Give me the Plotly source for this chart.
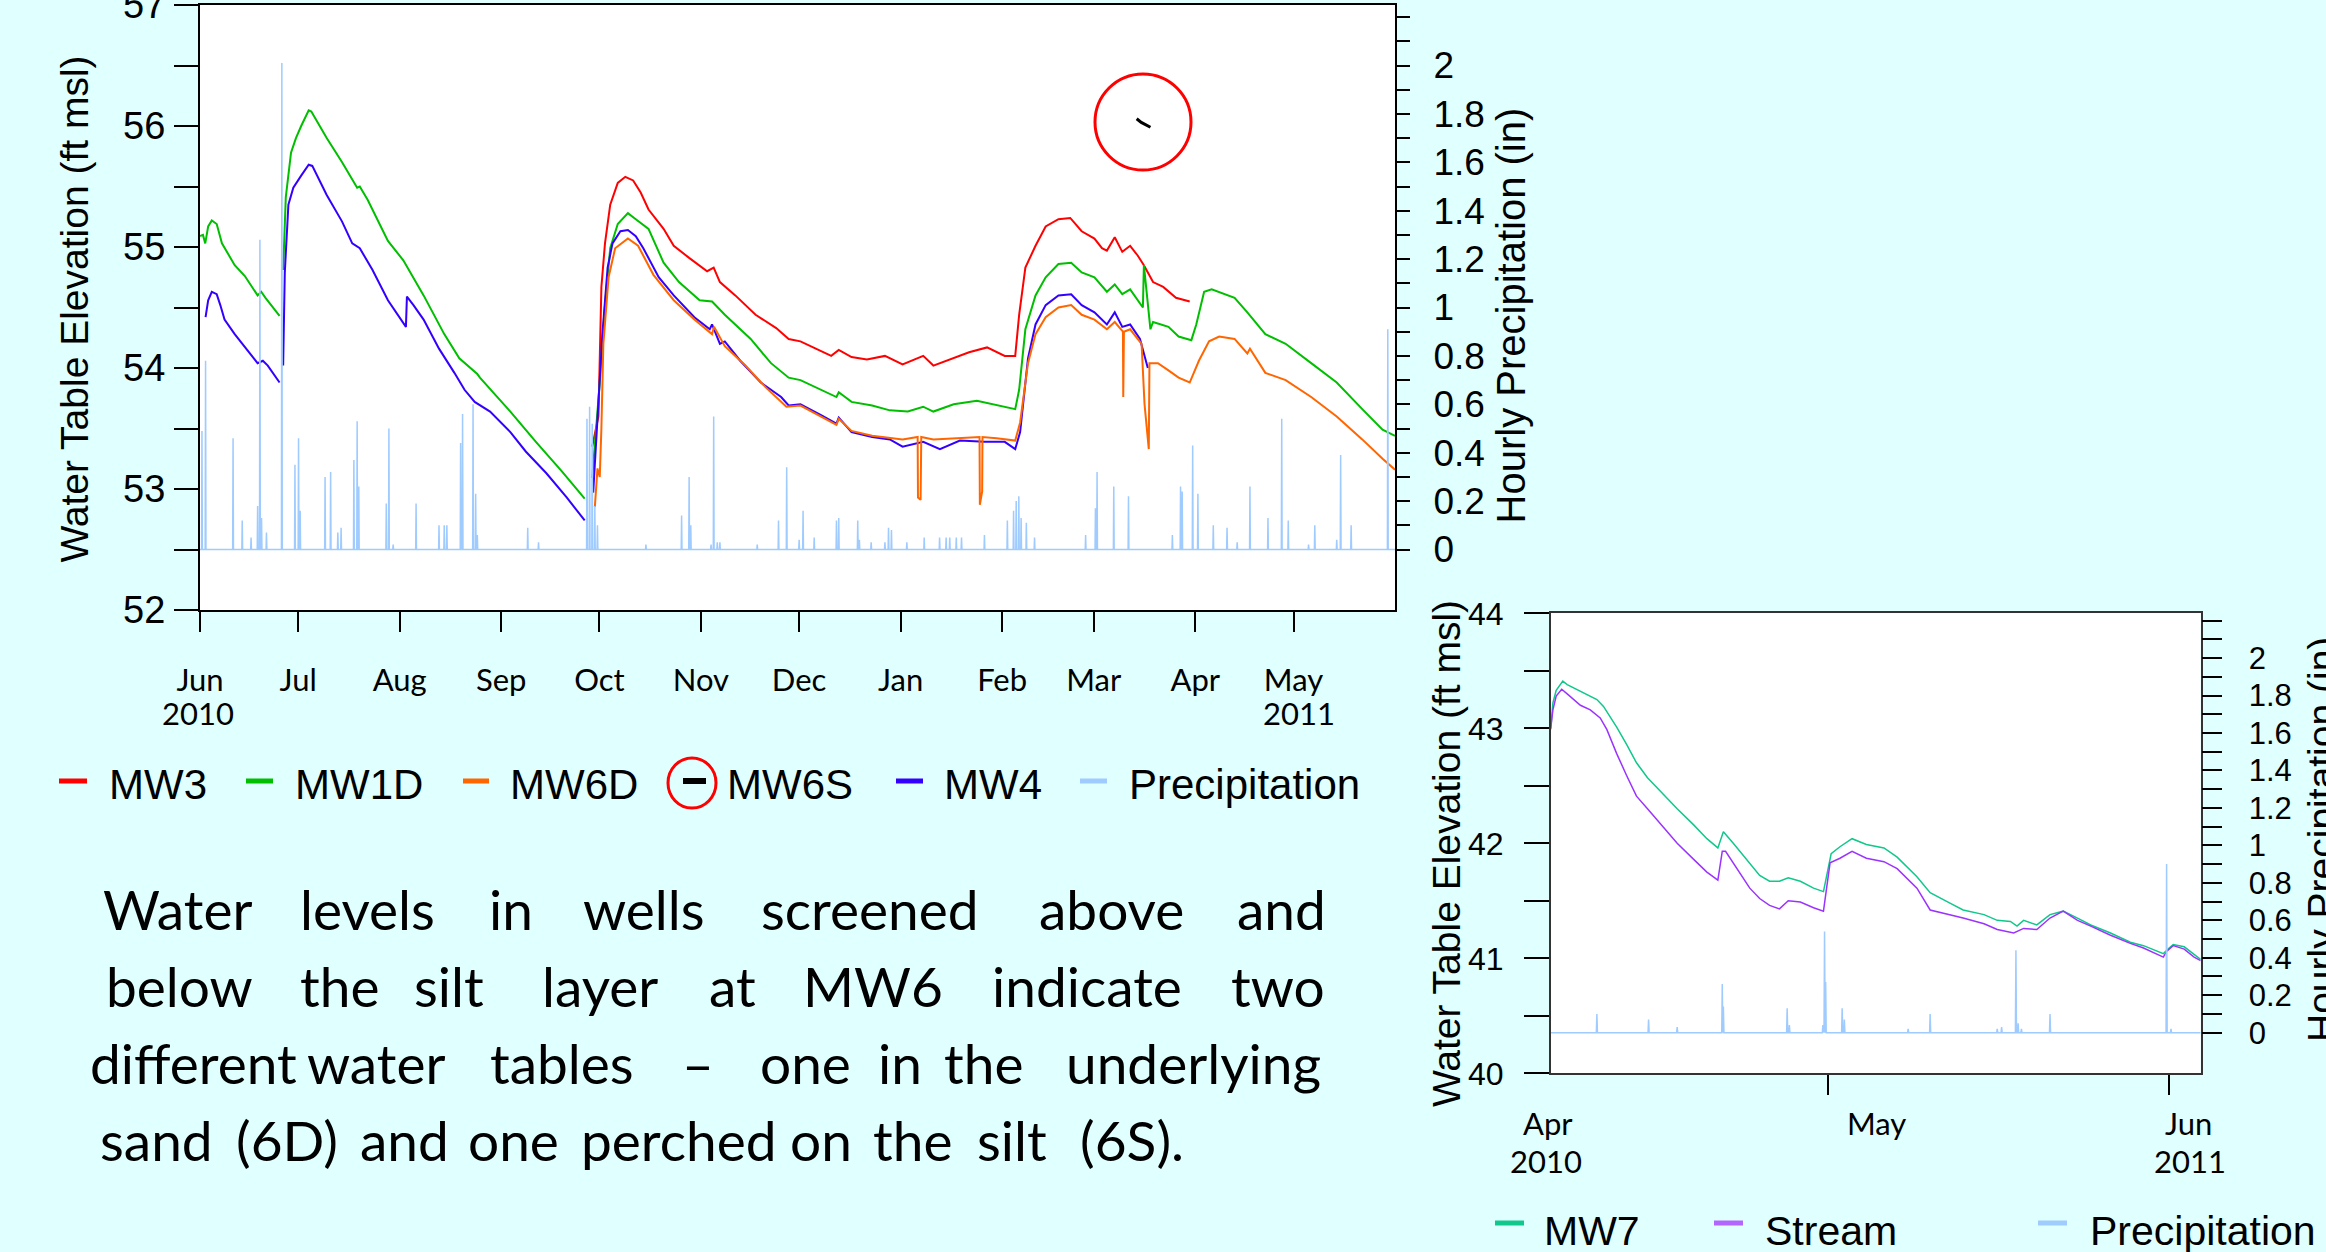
import plotly.graph_objects as go
import pandas as pd

W, H = 2326, 1252
BG = "#E0FFFF"

def px(x):
    return x / W

def py(y):
    return 1 - y / H

# ---------------- DATA : main chart (days after 2010-06-01) ----------------
MAIN_REF = "2010-06-01"

mw1d_days = [0, 0.9, 1.6, 2.5, 3.6, 5.1, 6.7, 10.6, 13.7, 17.6, 18.7, 20.0, 24.3, None,
             25.4, 25.9, 26.2, 27.8, 29.3, 30.9, 33.2, 34.0, 38.7, 43.4, 48.0, 48.8, 51.2, 57.4,
             62.1, 68.3, 74.6, 79.2, 84.7, 85.5, 94.8, 102.6, 110.4, 117.5, None,
             119.8, 122.1, 123.7, 125.3, 127.6, 130.7, 133.1, 137.0, 141.6, 146.3, 152.6, 156.4,
             160.3, 168.2, 174.4, 179.8, 183.4, 189.7, 194.4, 195.1, 199.0, 205.3, 210.7, 216.2,
             220.9, 224.0, 230.2, 237.3, 242.7, 249.0, 250.2, 252.1, 255.2, 258.3, 262.2, 266.1,
             269.3, 273.2, 277.0, 279.4, 281.7, 284.1, 288.0, 288.3, 290.3, 291.1, 295.8, 298.9,
             302.8, 304.3, 306.7, 309.0, 316.0, 319.9, 325.4, 331.6, 339.4, 347.2, 355.0, 361.2, 365.0]
mw1d_vals = [55.09, 55.10, 55.03, 55.17, 55.22, 55.19, 55.03, 54.85, 54.76, 54.60, 54.63, 54.58, 54.43, None,
             54.81, 55.25, 55.41, 55.78, 55.90, 56.00, 56.13, 56.12, 55.90, 55.70, 55.49, 55.50, 55.39, 55.05,
             54.89, 54.60, 54.28, 54.08, 53.95, 53.92, 53.64, 53.39, 53.15, 52.92, None,
             53.09, 53.88, 54.52, 54.99, 55.19, 55.28, 55.23, 55.15, 54.87, 54.71, 54.56, 54.55,
             54.44, 54.24, 54.04, 53.92, 53.90, 53.82, 53.76, 53.80, 53.72, 53.69, 53.65, 53.64,
             53.68, 53.64, 53.70, 53.73, 53.70, 53.66, 53.82, 54.32, 54.60, 54.75, 54.86, 54.87,
             54.79, 54.75, 54.63, 54.69, 54.61, 54.65, 54.50, 54.85, 54.32, 54.38, 54.34, 54.26,
             54.23, 54.36, 54.63, 54.65, 54.58, 54.46, 54.28, 54.20, 54.04, 53.88, 53.66, 53.49, 53.44]

mw3_days = [119.8, 121.7, 122.6, 123.7, 125.3, 127.6, 129.9, 132.3, 134.6, 137.0, 141.6, 144.7,
            149.4, 154.9, 156.9, 158.8, 163.5, 169.7, 176.0, 179.8, 183.4, 189.7, 192.8, 195.1,
            199.0, 203.7, 209.2, 214.6, 220.9, 224.0, 230.2, 234.9, 240.4, 245.8, 249.0, 250.2,
            252.1, 255.2, 258.3, 262.2, 265.8, 269.3, 273.2, 275.5, 277.0, 279.4, 281.7, 284.1,
            286.4, 288.3, 291.1, 294.2, 298.1, 302.3]
mw3_vals = [53.35, 53.60, 54.67, 55.03, 55.35, 55.53, 55.58, 55.55, 55.45, 55.31, 55.15, 55.01,
            54.91, 54.80, 54.83, 54.71, 54.60, 54.44, 54.33, 54.24, 54.22, 54.14, 54.10, 54.15,
            54.09, 54.07, 54.10, 54.03, 54.10, 54.02, 54.08, 54.13, 54.17, 54.10, 54.10, 54.44,
            54.83, 55.01, 55.17, 55.23, 55.24, 55.13, 55.07, 54.99, 54.97, 55.08, 54.96, 55.01,
            54.93, 54.85, 54.71, 54.67, 54.58, 54.55]

mw6d_days = [120.6, 121.4, 122.1, 122.6, 123.2, 124.8, 126.8, 130.7, 133.8, 138.5, 144.7, 151.0,
             156.4, 157.0, 160.3, 166.6, 172.8, 179.1, 183.4, 189.7, 194.4, 195.1, 199.0, 205.3,
             209.2, 214.6, 219.2, 219.3, 220.1, 220.3, 224.0, 230.2, 238.1, 238.2, 238.9, 239.0,
             243.3, 249.0, 250.5, 252.9, 255.2, 258.3, 262.2, 266.1, 269.3, 273.2, 277.0, 279.4,
             281.9, 282.0, 282.2, 284.1, 287.6, 288.5, 289.8, 290.0, 292.6, 295.8, 298.9, 302.3,
             305.1, 308.2, 311.3, 316.0, 319.9, 320.7, 325.4, 331.6, 339.4, 347.2, 355.0, 361.2, 365.0]
mw6d_vals = [52.85, 53.17, 53.10, 53.50, 54.20, 54.75, 54.99, 55.07, 55.01, 54.77, 54.56, 54.40,
             54.28, 54.34, 54.18, 54.02, 53.84, 53.68, 53.69, 53.60, 53.53, 53.58, 53.48, 53.44,
             53.43, 53.41, 53.43, 52.93, 52.91, 53.43, 53.41, 53.42, 53.43, 52.87, 52.98, 53.43,
             53.42, 53.40, 53.55, 54.04, 54.28, 54.42, 54.50, 54.52, 54.44, 54.40, 54.32, 54.38,
             54.30, 53.76, 54.30, 54.32, 54.20, 53.70, 53.33, 54.04, 54.04, 53.98, 53.92, 53.88,
             54.06, 54.22, 54.26, 54.24, 54.12, 54.16, 53.96, 53.90, 53.76, 53.60, 53.41, 53.25, 53.16]

mw6s_days = [286.1, 287.5, 290.3]
mw6s_vals = [56.06, 56.03, 55.99]

mw4_days = [1.7, 2.5, 3.6, 5.1, 6.2, 7.5, 10.6, 15.3, 17.6, 19.2, 20.7, 24.3, None,
            25.4, 25.9, 27.0, 28.5, 30.9, 33.2, 34.3, 38.7, 43.4, 46.5, 48.8, 52.7, 57.4, 62.9,
            63.2, 65.2, 68.3, 73.0, 77.7, 80.8, 83.9, 88.6, 94.8, 99.5, 105.8, 112.0, 117.5, None,
            120.1, 121.4, 122.9, 124.5, 126.0, 128.4, 130.7, 133.1, 135.4, 140.1, 144.7, 151.0,
            155.7, 156.4, 158.8, 160.3, 165.0, 171.3, 177.5, 179.8, 183.4, 189.7, 194.4, 195.1,
            199.0, 205.3, 210.7, 214.6, 220.9, 226.0, 232.1, 239.6, 245.8, 249.0, 250.5, 252.9,
            255.2, 258.3, 262.2, 266.1, 269.3, 273.2, 277.0, 279.4, 281.7, 284.1, 287.1, 289.5]
mw4_vals = [54.42, 54.56, 54.63, 54.61, 54.52, 54.40, 54.28, 54.12, 54.04, 54.06, 54.02, 53.88, None,
            54.02, 54.79, 55.35, 55.49, 55.59, 55.68, 55.67, 55.43, 55.21, 55.03, 54.99, 54.81, 54.56, 54.34,
            54.59, 54.52, 54.40, 54.16, 53.96, 53.82, 53.72, 53.64, 53.47, 53.31, 53.13, 52.93, 52.74, None,
            52.97, 53.60, 54.28, 54.83, 55.03, 55.13, 55.14, 55.09, 54.99, 54.75, 54.60, 54.42,
            54.32, 54.36, 54.20, 54.22, 54.06, 53.88, 53.76, 53.69, 53.70, 53.61, 53.54, 53.59,
            53.47, 53.43, 53.41, 53.35, 53.39, 53.33, 53.40, 53.39, 53.39, 53.33, 53.47, 54.08,
            54.36, 54.52, 54.60, 54.61, 54.52, 54.46, 54.36, 54.46, 54.34, 54.36, 54.24, 54.00]

precip_days = [0.6, 1.7, 10.1, 12.9, 15.6, 17.6, 18.3, 18.8, 20.3, 25.0, 29.0, 30.1, 30.6, 38.2,
               39.9, 42.1, 43.1, 47.0, 48.0, 48.5, 56.9, 57.7, 59.0, 66.0, 73.0, 74.6, 75.4, 79.6,
               80.2, 83.4, 84.2, 84.7, 100.1, 103.4, 118.2, 119.0, 119.8, 120.6, 121.4, 136.2,
               147.1, 149.4, 149.9, 156.1, 156.9, 158.0, 158.8, 170.2, 176.7, 179.2, 183.0, 184.2,
               187.6, 194.4, 195.1, 200.9, 201.4, 205.0, 209.2, 210.3, 211.2, 215.9, 221.2, 225.9,
               227.9, 229.0, 231.0, 232.6, 239.6, 246.6, 248.5, 249.3, 250.1, 250.8, 252.4, 254.9,
               270.5, 273.5, 274.0, 279.1, 283.6, 297.0, 299.5, 300.0, 303.2, 304.8, 309.5, 313.7,
               316.8, 320.7, 326.2, 330.4, 332.4, 338.6, 340.5, 347.2, 348.4, 351.6, 362.8]
precip_vals = [0.49, 0.78, 0.46, 0.12, 0.05, 0.18, 1.28, 0.13, 0.07, 2.01, 0.35, 0.46, 0.16, 0.30,
               0.32, 0.07, 0.09, 0.37, 0.53, 0.26, 0.19, 0.50, 0.02, 0.19, 0.10, 0.10, 0.10, 0.44,
               0.56, 0.60, 0.23, 0.06, 0.09, 0.03, 0.54, 0.59, 0.52, 0.18, 0.10, 0.02,
               0.14, 0.30, 0.10, 0.02, 0.55, 0.03, 0.03, 0.02, 0.12, 0.34, 0.04, 0.16,
               0.05, 0.12, 0.13, 0.12, 0.04, 0.03, 0.03, 0.09, 0.08, 0.03, 0.05, 0.05,
               0.05, 0.05, 0.05, 0.05, 0.06, 0.12, 0.16, 0.20, 0.22, 0.13, 0.11, 0.05,
               0.06, 0.17, 0.32, 0.26, 0.22, 0.06, 0.26, 0.24, 0.43, 0.23, 0.10, 0.09,
               0.03, 0.26, 0.13, 0.54, 0.12, 0.02, 0.10, 0.04, 0.39, 0.10, 0.91]

month_ticks = ["2010-06-01", "2010-07-01", "2010-08-01", "2010-09-01", "2010-10-01", "2010-11-01",
               "2010-12-01", "2011-01-01", "2011-02-01", "2011-03-01", "2011-04-01", "2011-05-01"]
month_labels = ["Jun", "Jul", "Aug", "Sep", "Oct", "Nov", "Dec", "Jan", "Feb", "Mar", "Apr", "May"]

# ---------------- DATA : inset chart (days after 2011-05-01) ----------------
INSET_REF = "2011-05-01"
inset_range_days = [-25.2, 33.9]

mw7_days = [-25.2, -25.0, -24.7, -24.1, -23.7, -22.5, -21.0, -20.4, -19.2, -18.3, -17.4, -16.4,
            -15.2, -13.7, -12.2, -11.0, -10.0, -9.5, -8.6, -7.1, -6.2, -5.3, -4.4, -3.6, -2.5,
            -1.3, -0.4, 0.3, 1.1, 2.2, 3.5, 5.1, 6.3, 8.1, 9.3, 11.1, 12.3, 14.2, 15.4, 16.6,
            17.2, 17.8, 19.0, 20.2, 21.4, 22.7, 23.9, 25.7, 27.5, 28.7, 30.5, 30.8, 31.4, 32.4,
            33.3, 33.9]
mw7_vals = [42.99, 43.22, 43.33, 43.41, 43.38, 43.32, 43.25, 43.19, 43.01, 42.86, 42.70, 42.57,
            42.45, 42.30, 42.16, 42.04, 41.96, 42.10, 42.00, 41.83, 41.72, 41.67, 41.67, 41.70, 41.67,
            41.61, 41.58, 41.91, 41.97, 42.04, 41.99, 41.96, 41.88, 41.71, 41.57, 41.48, 41.42, 41.38,
            41.33, 41.32, 41.28, 41.33, 41.29, 41.38, 41.41, 41.35, 41.29, 41.22, 41.14, 41.11, 41.04,
            41.07, 41.12, 41.10, 41.03, 40.99]

stream_days = [-25.2, -25.0, -24.7, -24.2, -23.7, -22.5, -21.6, -20.7, -20.1, -19.2, -18.3, -17.4,
               -16.4, -15.2, -13.7, -12.2, -11.0, -10.0, -9.6, -9.3, -8.6, -7.1, -6.2, -5.3, -4.4,
               -3.6, -2.5, -1.3, -0.4, 0.2, 1.1, 2.2, 3.5, 5.1, 6.3, 8.1, 9.3, 11.1, 12.3, 14.2,
               15.4, 16.9, 17.8, 19.0, 20.2, 21.4, 22.7, 23.9, 25.7, 27.5, 28.7, 30.5, 30.8, 31.4,
               32.4, 33.3, 33.9]
stream_vals = [43.00, 43.16, 43.28, 43.34, 43.30, 43.20, 43.16, 43.09, 42.99, 42.78, 42.59, 42.41,
               42.30, 42.17, 42.00, 41.86, 41.75, 41.68, 41.93, 41.93, 41.83, 41.61, 41.52, 41.46, 41.43,
               41.50, 41.49, 41.44, 41.41, 41.83, 41.87, 41.93, 41.87, 41.84, 41.78, 41.61, 41.42, 41.38,
               41.35, 41.30, 41.25, 41.22, 41.26, 41.25, 41.35, 41.41, 41.33, 41.28, 41.20, 41.13, 41.09,
               41.01, 41.06, 41.11, 41.08, 41.01, 40.98]

inset_precip_days = [-21.0, -16.3, -13.7, -9.6, -9.5, -3.7, -3.5, -0.45, -0.3, -0.2, 1.3, 1.5,
                     7.3, 9.3, 15.4, 15.8, 17.1, 17.3, 17.6, 20.2, 30.8, 31.2]
inset_precip_vals = [0.10, 0.07, 0.03, 0.26, 0.14, 0.13, 0.04, 0.04, 0.54, 0.27, 0.13, 0.07,
                     0.02, 0.10, 0.02, 0.03, 0.44, 0.05, 0.02, 0.10, 0.90, 0.02]

inset_tick_days = [0, 31]

# ---------------- helpers ----------------
def to_dates(ref, days):
    r = pd.Timestamp(ref)
    return [None if d is None else r + pd.Timedelta(days=d) for d in days]


def spike_series(days, vals, d0, d1, hw):
    xs, ys = [d0], [0.0]
    for d, v in sorted(zip(days, vals)):
        xs += [d - hw, d, d + hw]
        ys += [0.0, v, 0.0]
    xs.append(d1)
    ys.append(0.0)
    return xs, ys


C_RED, C_GREEN, C_ORANGE, C_BLUE = "#FF0000", "#00BF00", "#FF6600", "#3300FF"
C_PREC, C_MW7, C_STREAM = "#9FCBFF", "#10C88C", "#9B33FF"

fig = go.Figure()

# main precipitation
pxs, pys = spike_series(precip_days, precip_vals, 0, 365, 0.12)
fig.add_trace(go.Scatter(x=to_dates(MAIN_REF, pxs), y=pys, mode="lines", name="Precipitation",
                         line=dict(color=C_PREC, width=1.5), xaxis="x", yaxis="y2", showlegend=False))
for name, d, v, c, w in [("MW3", mw3_days, mw3_vals, C_RED, 2),
                         ("MW1D", mw1d_days, mw1d_vals, C_GREEN, 2),
                         ("MW4", mw4_days, mw4_vals, C_BLUE, 2),
                         ("MW6D", mw6d_days, mw6d_vals, C_ORANGE, 2),
                         ("MW6S", mw6s_days, mw6s_vals, "black", 3)]:
    fig.add_trace(go.Scatter(x=to_dates(MAIN_REF, d), y=v, mode="lines", name=name,
                             line=dict(color=c, width=w), xaxis="x", yaxis="y", showlegend=False))

# inset
ixs, iys = spike_series(inset_precip_days, inset_precip_vals, inset_range_days[0], inset_range_days[1], 0.05)
fig.add_trace(go.Scatter(x=to_dates(INSET_REF, ixs), y=iys, mode="lines", name="Precipitation",
                         line=dict(color=C_PREC, width=1.5), xaxis="x2", yaxis="y4", showlegend=False))
fig.add_trace(go.Scatter(x=to_dates(INSET_REF, mw7_days), y=mw7_vals, mode="lines", name="MW7",
                         line=dict(color=C_MW7, width=1.5), xaxis="x2", yaxis="y3", showlegend=False))
fig.add_trace(go.Scatter(x=to_dates(INSET_REF, stream_days), y=stream_vals, mode="lines", name="Stream",
                         line=dict(color=C_STREAM, width=1.5), xaxis="x2", yaxis="y3", showlegend=False))

# ---------------- axes ----------------
ARIAL = "Liberation Sans, Arial, sans-serif"
CAL = "Lato, Open Sans, sans-serif"

elev_main = [52 + 0.5 * i for i in range(11)]
elev_main_txt = [f"{v:g}" if v == int(v) else "" for v in elev_main]
prec_vals = [round(0.1 * i, 1) for i in range(23)]
prec_txt = [f"{v:g}" if (i % 2 == 0 and v <= 2) else "" for i, v in enumerate(prec_vals)]
elev_inset = [40 + 0.5 * i for i in range(9)]
elev_inset_txt = [f"{v:g}" if v == int(v) else "" for v in elev_inset]

main_x = [px(200), px(1395)]
main_y = [py(610), py(5)]
ins_x = [px(1550.7), px(2200.7)]
ins_y = [py(1073.3), py(613.3)]

fig.update_layout(
    width=W, height=H, margin=dict(l=0, r=0, t=0, b=0, pad=0, autoexpand=False),
    paper_bgcolor=BG, plot_bgcolor="white", showlegend=False,
    xaxis=dict(domain=main_x, anchor="y", type="date", automargin=False,
               range=[pd.Timestamp("2010-06-01"), pd.Timestamp("2011-06-01")],
               tickmode="array", tickvals=month_ticks, ticktext=month_labels,
               ticks="outside", ticklen=20, tickwidth=2, tickcolor="black",
               showline=True, linecolor="black", linewidth=2, mirror=True,
               showgrid=False, zeroline=False, ticklabelstandoff=22,
               tickfont=dict(family=CAL, size=31, color="black")),
    yaxis=dict(domain=main_y, anchor="x", range=[52, 57], tickmode="array", automargin=False,
               tickvals=elev_main, ticktext=elev_main_txt, ticklabeloverflow="allow",
               ticks="outside", ticklen=24, tickwidth=2, tickcolor="black",
               showline=True, linecolor="black", linewidth=2, mirror=True,
               showgrid=False, zeroline=False, ticklabelstandoff=1,
               tickfont=dict(family=ARIAL, size=38, color="black")),
    yaxis2=dict(overlaying="y", anchor="x", side="right", range=[-0.25, 2.25], tickmode="array",
                tickvals=prec_vals, ticktext=prec_txt, automargin=False,
                ticks="outside", ticklen=13, tickwidth=2, tickcolor="black",
                showline=True, linecolor="black", linewidth=2,
                showgrid=False, zeroline=False, ticklabelstandoff=16,
                tickfont=dict(family=ARIAL, size=37, color="black")),
    xaxis2=dict(domain=ins_x, anchor="y3", type="date", automargin=False,
                range=to_dates(INSET_REF, inset_range_days),
                tickmode="array", tickvals=to_dates(INSET_REF, inset_tick_days),
                showticklabels=False,
                ticks="outside", ticklen=20, tickwidth=2, tickcolor="black",
                showline=True, linecolor="#333333", linewidth=1.5, mirror=True,
                showgrid=False, zeroline=False),
    yaxis3=dict(domain=ins_y, anchor="x2", range=[40, 44], tickmode="array", automargin=False,
                tickvals=elev_inset, ticktext=elev_inset_txt, ticklabeloverflow="allow",
                ticks="outside", ticklen=25, tickwidth=2, tickcolor="black",
                showline=True, linecolor="#333333", linewidth=1.5, mirror=True,
                showgrid=False, zeroline=False, ticklabelstandoff=14,
                tickfont=dict(family=ARIAL, size=32, color="black")),
    yaxis4=dict(overlaying="y3", anchor="x2", side="right", range=[-0.217, 2.239], tickmode="array",
                tickvals=prec_vals, ticktext=prec_txt, automargin=False,
                ticks="outside", ticklen=20, tickwidth=2, tickcolor="black",
                showline=True, linecolor="#333333", linewidth=1.5,
                showgrid=False, zeroline=False, ticklabelstandoff=20,
                tickfont=dict(family=ARIAL, size=31, color="black")),
)

ann = []


def text(t, x, y, size, family=ARIAL, xanchor="center", angle=0):
    ann.append(dict(text=t, x=px(x), y=py(y), xref="paper", yref="paper", showarrow=False,
                    xanchor=xanchor, yanchor="middle", textangle=angle,
                    font=dict(family=family, size=size, color="black")))


# axis titles
text("Water Table Elevation (ft msl)", 74.6, 309, 39, angle=-90)
text("Hourly Precipitation (in)", 1511.4, 315, 40, angle=-90)
text("Water Table Elevation (ft msl)", 1446.1, 854, 39, angle=-90)
text("Hourly Precipitation (in)", 2321, 840, 39, angle=-90)

# year labels under the month labels
text("2010", 198, 713, 31, family=CAL)
text("2011", 1299, 713, 31, family=CAL)

# inset x labels
inset_labels = [("Apr", 1548, 1123), ("2010", 1546, 1161), ("May", 1876, 1123),
                ("Jun", 2188, 1123), ("2011", 2190, 1161)]
for t, x, y in inset_labels:
    text(t, x, y, 31, family=CAL)

# main legend
legend_main = [("MW3", C_RED, 59, 87, 107), ("MW1D", C_GREEN, 246, 273, 293),
               ("MW6D", C_ORANGE, 463, 489, 508), ("MW6S", "black", 683, 706, 725),
               ("MW4", C_BLUE, 896, 923, 942), ("Precipitation", C_PREC, 1080, 1107, 1127)]
shapes = []
for name, col, x0, x1, tx in legend_main:
    shapes.append(dict(type="line", xref="paper", yref="paper", x0=px(x0), x1=px(x1),
                       y0=py(781), y1=py(781), line=dict(color=col, width=6 if col == "black" else 5)))
    text(name, tx, 784, 42, xanchor="left")

legend_inset = [("MW7", C_MW7, 1495, 1524, 1542), ("Stream", "#B266FF", 1714, 1743, 1763),
                ("Precipitation", C_PREC, 2038, 2067, 2088)]
for name, col, x0, x1, tx in legend_inset:
    shapes.append(dict(type="line", xref="paper", yref="paper", x0=px(x0), x1=px(x1),
                       y0=py(1223), y1=py(1223), line=dict(color=col, width=5)))
    text(name, tx, 1231, 41, xanchor="left")

# red highlight circles
shapes.append(dict(type="circle", xref="paper", yref="paper", x0=px(1095), x1=px(1191),
                   y0=py(170), y1=py(74), line=dict(color="red", width=3)))
shapes.append(dict(type="circle", xref="paper", yref="paper", x0=px(668), x1=px(716),
                   y0=py(808), y1=py(758), line=dict(color="red", width=3)))

# paragraph (justified text, word by word)
para_lines = [
    (909, [("Water", 177), ("levels", 367), ("in", 511), ("wells", 644), ("screened", 870),
           ("above", 1111), ("and", 1281)]),
    (986, [("below", 179), ("the", 339), ("silt", 449), ("layer", 600), ("at", 732),
           ("MW6", 873), ("indicate", 1087), ("two", 1278)]),
    (1063, [("different", 193), ("water", 376), ("tables", 562), ("\u2013", 698), ("one", 805),
            ("in", 900), ("the", 983), ("underlying", 1193)]),
    (1140, [("sand", 156), ("(6D)", 287), ("and", 404), ("one", 513), ("perched", 679),
            ("on", 821), ("the", 912), ("silt", 1012), ("(6S).", 1132)]),
]
for y, words in para_lines:
    for w, x in words:
        text(w, x, y, 55, family=CAL)

fig.update_layout(annotations=ann, shapes=shapes)
fig.write_html("out.html", config={"displayModeBar": False},
               post_script="document.body.style.margin='0';document.body.style.background='%s';" % BG)
